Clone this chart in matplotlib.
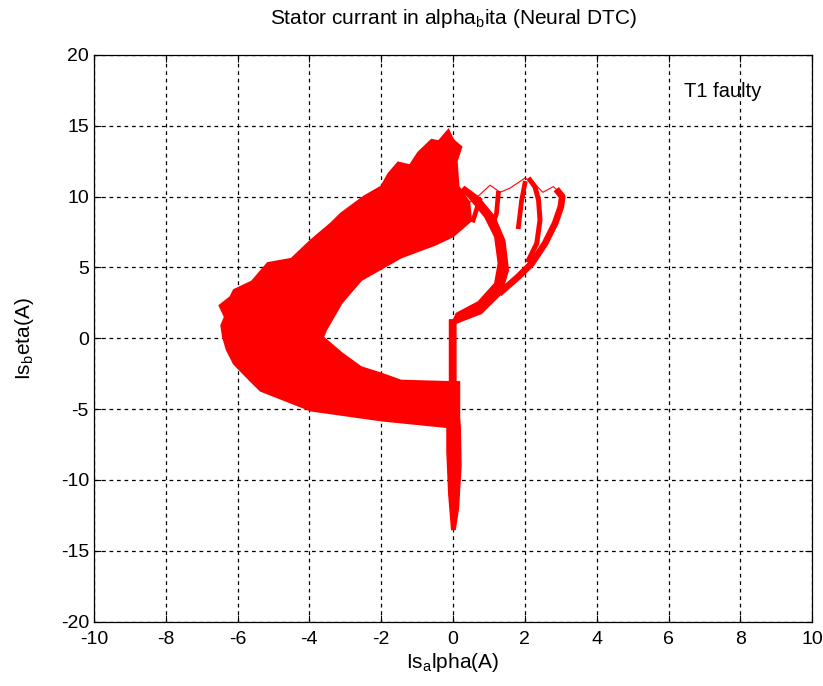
import numpy as np
import matplotlib.pyplot as plt

plt.rcParams['font.family'] = ['Liberation Sans', 'DejaVu Sans']
plt.rcParams['axes.unicode_minus'] = False

# outline of the dense C-shaped band (alpha, beta)
band_x = [-0.13, 0.0, 0.23, 0.1, 0.15, 0.45, 0.5, 0.0, -0.5, -1.45, -2.56, -3.1,
          -3.54, -3.62, -3.1, -2.56, -2.0, -1.45, -0.05, 0.17, 0.17, -0.05, -2.0,
          -3.96, -5.36, -5.64, -6.1, -6.3, -6.4, -6.45, -6.35, -6.5, -6.2, -6.1,
          -5.6, -5.16, -4.5, -3.96, -3.4, -3.12, -2.48, -2.0, -1.8, -1.53, -1.2,
          -0.97, -0.6, -0.4]
band_y = [14.7, 14.0, 13.5, 12.5, 10.7, 9.6, 8.3, 7.2, 6.6, 5.7, 4.1, 2.5,
          0.57, 0.07, -1.06, -2.05, -2.5, -3.0, -3.1, -3.1, -6.3, -6.3, -5.8,
          -5.1, -3.7, -3.0, -1.8, -0.8, 0.07, 0.9, 1.5, 2.3, 2.9, 3.4,
          4.0, 5.3, 5.6, 6.9, 8.1, 8.8, 10.0, 10.7, 11.6, 12.4, 12.2,
          13.1, 14.0, 13.9]

# vertical stem at alpha ~ 0 (left edge down, right edge up)
stem_x = [-0.1, -0.1, -0.17, -0.17, -0.12, -0.04, 0.06, 0.15, 0.22, 0.2, 0.08, 0.08]
stem_y = [1.3, -3.1, -6.3, -8.0, -11.0, -13.5, -13.5, -12.0, -9.0, -6.3, -3.1, 1.3]

# thick hook from the stem back into the band
hook_lo_x = [-0.05, 0.79, 1.35, 1.54, 1.44, 1.16, 0.70, 0.32]
hook_lo_y = [0.92, 1.75, 3.16, 4.8, 6.9, 8.57, 9.99, 10.7]
hook_up_x = [0.09, 0.70, 1.16, 1.26, 1.16, 0.88, 0.42, 0.23]
hook_up_y = [1.75, 2.57, 3.87, 5.28, 7.16, 8.57, 9.99, 10.46]

# strands of the outer loops on the right
outer_x = [1.35, 1.81, 2.19, 2.56, 2.84, 3.0, 3.04, 2.93]
outer_y = [3.3, 4.33, 5.28, 6.69, 8.11, 9.28, 9.99, 10.34]
inner_x = [2.10, 2.33, 2.42, 2.38, 2.28, 2.14]
inner_y = [5.51, 6.69, 8.34, 9.75, 10.69, 11.17]
mid_x = [2.0, 1.91, 1.82]
mid_y = [10.93, 9.75, 7.87]
mid2_x = [1.26, 1.21, 1.12]
mid2_y = [10.23, 8.81, 8.11]
mid3_x = [0.74, 0.56]
mid3_y = [9.75, 8.34]
top_x = [0.4, 0.67, 1.03, 1.31, 1.59, 2.0, 2.23, 2.5, 2.79, 3.06]
top_y = [9.5, 9.96, 10.8, 10.3, 10.6, 11.3, 11.0, 10.3, 10.7, 10.1]

fig = plt.figure(figsize=(8.23, 6.86), dpi=100)
ax = fig.add_axes([0.114, 0.094, 0.873, 0.826])

red = '#ff0000'
ax.fill(band_x, band_y, color=red, lw=1.5, ec=red, zorder=3)
ax.fill(stem_x, stem_y, color=red, lw=1, ec=red, zorder=3)
ax.fill(hook_lo_x + hook_up_x[::-1], hook_lo_y + hook_up_y[::-1],
        color=red, lw=1, ec=red, zorder=3)
ax.plot(outer_x, outer_y, color=red, lw=4.8, zorder=3)
ax.plot(inner_x, inner_y, color=red, lw=3.6, zorder=3)
for xs, ys in [(mid_x, mid_y), (mid2_x, mid2_y), (mid3_x, mid3_y)]:
    ax.plot(xs, ys, color=red, lw=3.4, zorder=3)
ax.plot(top_x, top_y, color=red, lw=0.8, zorder=3)

ax.set_xlim(-10, 10)
ax.set_ylim(-20, 20)
ax.set_xticks(np.arange(-10, 11, 2))
ax.set_yticks(np.arange(-20, 21, 5))
ax.tick_params(direction='in', top=True, right=True, length=5, labelsize=14)
ax.tick_params(axis='x', pad=7)
ax.grid(True, color='black', linestyle=(0, (3, 3)), linewidth=0.9)
for s in ax.spines.values():
    s.set_linewidth(0.9)

ax.set_title('Stator currant in alpha$_\\mathregular{b}$ita (Neural DTC)', fontsize=15, pad=22)
ax.set_xlabel('Is$_\\mathregular{a}$lpha(A)', fontsize=15, labelpad=2)
ax.set_ylabel('Is$_\\mathregular{b}$eta(A)', fontsize=15, labelpad=18)
ax.text(6.44, 17.4, 'T1 faulty', fontsize=14.5, va='center')

fig.savefig('out.png')
